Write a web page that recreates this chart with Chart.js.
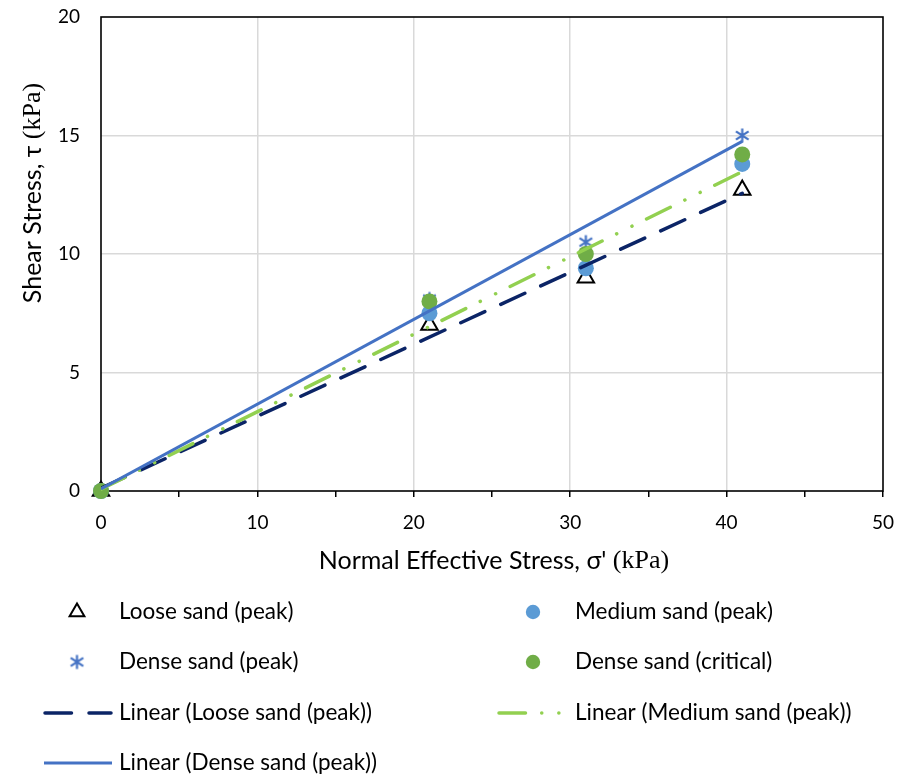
<!DOCTYPE html>
<html>
<head>
<meta charset="utf-8">
<script src="https://cdn.jsdelivr.net/npm/chart.js@4/dist/chart.umd.min.js"></script>
<style>
  html, body { margin: 0; padding: 0; background: #fff; }
</style>
</head>
<body>
<canvas id="chart" width="899" height="778"></canvas>
<script>
// values
const stress = [0, 21, 31, 41];
const looseSand = [0, 7.0, 9.0, 12.7];
const mediumSand = [0, 7.5, 9.4, 13.8];
const densePeak = [0, 8.1, 10.5, 15.0];
const denseCritical = [0, 8.0, 10.0, 14.2];
const xRange = [0, 50];
const yRange = [0, 20];
const xLabelStep = 10;
const yStep = 5;

const FONT = "Lato, 'Open Sans', sans-serif";
const SERIF = "'Liberation Serif', 'DejaVu Serif', serif";

const pts = ys => stress.map((x, i) => ({ x, y: ys[i] }));

// least squares trendline, like the spreadsheet "Linear" trendline
const trend = ys => {
  const n = stress.length;
  const mx = stress.reduce((a, b) => a + b, 0) / n;
  const my = ys.reduce((a, b) => a + b, 0) / n;
  let sxy = 0, sxx = 0;
  stress.forEach((x, i) => { sxy += (x - mx) * (ys[i] - my); sxx += (x - mx) * (x - mx); });
  const m = sxy / sxx, b = my - m * mx;
  const x0 = stress[0], x1 = stress[n - 1];
  return [{ x: x0, y: b + m * x0 }, { x: x1, y: b + m * x1 }];
};

const starMarker = (size, color) => {
  const c = document.createElement("canvas");
  c.width = c.height = size;
  const g = c.getContext("2d");
  const m = size / 2, r = size / 2 - 1.5;
  g.strokeStyle = color;
  g.lineWidth = 2.2;
  g.beginPath();
  g.moveTo(m, m - r); g.lineTo(m, m + r);
  g.moveTo(m - r * 0.9, m - r * 0.6); g.lineTo(m + r * 0.9, m + r * 0.6);
  g.moveTo(m + r * 0.9, m - r * 0.6); g.lineTo(m - r * 0.9, m + r * 0.6);
  g.stroke();
  return c;
};

const datasets = [
  { label: "Loose sand (peak)", data: pts(looseSand), pointStyle: "triangle", pointRadius: 9.5,
    pointBorderWidth: 2, borderColor: "#000", backgroundColor: "rgba(255,255,255,0)", order: 7, clip: false },
  { label: "Medium sand (peak)", data: pts(mediumSand), pointStyle: "circle", pointRadius: 8,
    pointBorderWidth: 0, borderColor: "#5B9BD5", backgroundColor: "#5B9BD5", order: 6, clip: false },
  { label: "Dense sand (peak)", data: pts(densePeak), pointStyle: starMarker(17, "#4472C4"), pointRadius: 8,
    borderColor: "#4472C4", backgroundColor: "#4472C4", order: 5, clip: false },
  { label: "Dense sand (critical)", data: pts(denseCritical), pointStyle: "circle", pointRadius: 8,
    pointBorderWidth: 0, borderColor: "#70AD47", backgroundColor: "#70AD47", order: 4, clip: false },
  { label: "Linear (Loose sand (peak))", data: trend(looseSand), showLine: true, pointRadius: 0,
    borderColor: "#0B2466", borderWidth: 3.5, borderDash: [26.5, 17.5], borderCapStyle: "round", order: 3 },
  { label: "Linear (Medium sand (peak))", data: trend(mediumSand), showLine: true, pointRadius: 0,
    borderColor: "#92D050", borderWidth: 3.5, borderDash: [26.5, 16.2, 0.1, 17, 0.1, 16.2], borderCapStyle: "round", order: 2 },
  { label: "Linear (Dense sand (peak))", data: trend(densePeak), showLine: true, pointRadius: 0,
    borderColor: "#4472C4", borderWidth: 3, order: 1 }
];

// legend slots: marker or line x, text x, row y
const legendSlots = [
  { mx: 77, tx: 119, y: 612 }, { mx: 533, tx: 575, y: 612 },
  { mx: 77, tx: 119, y: 662 }, { mx: 533, tx: 575, y: 662 },
  { lx: [45, 111], tx: 119, y: 713 }, { lx: [499, 560], tx: 575, y: 713 },
  { lx: [44, 112], tx: 119, y: 763 }
];

const frameAndText = {
  id: "frameAndText",
  beforeDatasetsDraw(chart) {
    const { ctx, chartArea: a } = chart;
    ctx.save();
    ctx.strokeStyle = "#000";
    ctx.lineWidth = 1.6;
    ctx.strokeRect(a.left, a.top, a.right - a.left, a.bottom - a.top);
    ctx.restore();
  },
  afterDraw(chart) {
    const { ctx, chartArea: a } = chart;
    ctx.save();
    ctx.fillStyle = "#000";
    ctx.textBaseline = "middle";

    // axis titles, with the unit in a serif face
    const mixed = (parts, cx, cy, rot) => {
      ctx.save();
      ctx.translate(cx, cy);
      ctx.rotate(rot);
      let w = 0;
      parts.forEach(p => { ctx.font = p[1]; w += ctx.measureText(p[0]).width; });
      let x = -w / 2;
      ctx.textAlign = "left";
      parts.forEach(p => { ctx.font = p[1]; ctx.fillText(p[0], x, 0); x += ctx.measureText(p[0]).width; });
      ctx.restore();
    };
    mixed([["Normal Effective Stress, σ' ", "25px " + FONT], ["(kPa)", "26px " + SERIF]],
      (a.left + a.right) / 2 + 2, 561, 0);
    mixed([["Shear Stress, τ ", "25px " + FONT], ["(kPa)", "26px " + SERIF]], 33, 193, -Math.PI / 2);

    // legend
    chart.data.datasets.forEach((ds, i) => {
      const s = legendSlots[i];
      ctx.font = "22.5px " + FONT;
      ctx.fillStyle = "#000";
      ctx.textAlign = "left";
      ctx.fillText(ds.label, s.tx, s.y);
      if (s.lx) {
        ctx.save();
        ctx.strokeStyle = ds.borderColor;
        ctx.lineWidth = ds.borderWidth;
        ctx.lineCap = ds.borderCapStyle || "butt";
        ctx.setLineDash(ds.borderDash || []);
        ctx.beginPath();
        ctx.moveTo(s.lx[0], s.y);
        ctx.lineTo(s.lx[1], s.y);
        ctx.stroke();
        ctx.restore();
      } else {
        ctx.save();
        ctx.fillStyle = ds.backgroundColor;
        ctx.strokeStyle = ds.borderColor;
        ctx.lineWidth = ds.pointBorderWidth || 0;
        Chart.helpers.drawPoint(ctx, {
          pointStyle: ds.pointStyle, radius: ds.pointRadius * 0.9,
          borderWidth: ds.pointBorderWidth || 0, rotation: 0
        }, s.mx, s.y);
        ctx.restore();
      }
    });
    ctx.restore();
  }
};

new Chart(document.getElementById("chart"), {
  type: "scatter",
  data: { datasets },
  options: {
    responsive: false,
    animation: false,
    events: [],
    layout: { padding: { left: 0, right: 16, top: 17, bottom: 0 } },
    plugins: { legend: { display: false }, tooltip: { enabled: false } },
    scales: {
      x: {
        type: "linear", min: xRange[0], max: xRange[1],
        afterFit: s => { s.height = 287; s.paddingLeft = 0; s.paddingRight = 0; },
        border: { display: false },
        grid: {
          color: c => (c.tick && c.tick.value % xLabelStep === 0 && c.tick.value > xRange[0] && c.tick.value < xRange[1]) ? "#d9d9d9" : "rgba(0,0,0,0)",
          tickColor: "#000", tickLength: 6, lineWidth: 1.5, drawTicks: true
        },
        ticks: {
          stepSize: yStep, padding: 14, color: "#000", font: { family: FONT, size: 19 },
          callback: v => v % xLabelStep === 0 ? v : ""
        }
      },
      y: {
        type: "linear", min: yRange[0], max: yRange[1],
        afterFit: s => { s.width = 101; s.paddingTop = 0; s.paddingBottom = 0; },
        border: { display: false },
        grid: {
          color: c => (c.tick && c.tick.value > yRange[0] && c.tick.value < yRange[1]) ? "#d9d9d9" : "rgba(0,0,0,0)",
          lineWidth: 1.5, drawTicks: false
        },
        ticks: { stepSize: yStep, padding: 21, color: "#000", font: { family: FONT, size: 19 } }
      }
    }
  },
  plugins: [frameAndText]
});
</script>
</body>
</html>
